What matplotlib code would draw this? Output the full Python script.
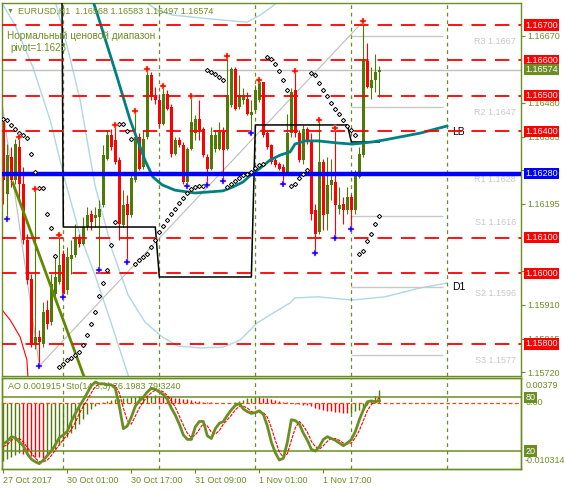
import numpy as np
import matplotlib
matplotlib.use('Agg')
import matplotlib.pyplot as plt

plt.rcParams['font.family'] = ['Liberation Sans', 'DejaVu Sans']
plt.rcParams['font.size'] = 6.5

OLIVE = '#6b8e23'
BULL = '#4e7a05'
LIGHTBLUE = '#add8e6'

# EURUSD H1, bars from 27 Oct 2017 09:00 to 2 Nov 2017 07:00
opens = [1.16427, 1.16224, 1.16328, 1.16262, 1.16356, 1.16252, 1.16092, 1.15984, 1.15796, 1.15820,
         1.15801, 1.15895, 1.15862, 1.15942, 1.15975, 1.16055, 1.15951, 1.16040, 1.16050, 1.16102,
         1.16083, 1.16130, 1.16166, 1.16156, 1.16158, 1.16191, 1.16323, 1.16389, 1.16375, 1.16318,
         1.16135, 1.16196, 1.16163, 1.16262, 1.16384, 1.16300, 1.16384, 1.16558, 1.16497, 1.16488,
         1.16422, 1.16506, 1.16469, 1.16337, 1.16375, 1.16361, 1.16257, 1.16351, 1.16394, 1.16436,
         1.16408, 1.16328, 1.16295, 1.16351, 1.16351, 1.16398, 1.16351, 1.16474, 1.16577, 1.16469,
         1.16488, 1.16492, 1.16445, 1.16459, 1.16488, 1.16539, 1.16394, 1.16361, 1.16318, 1.16309,
         1.16300, 1.16285, 1.16394, 1.16516, 1.16394, 1.16318, 1.16408, 1.16375, 1.16177, 1.16116,
         1.16314, 1.16168, 1.16248, 1.16257, 1.16182, 1.16196, 1.16177, 1.16215, 1.16177, 1.16271,
         1.16332, 1.16598, 1.16523, 1.16544, 1.16568]
highs = [1.16431, 1.16365, 1.16356, 1.16379, 1.16384, 1.16300, 1.16111, 1.15998, 1.16236, 1.15840,
         1.15918, 1.15923, 1.15998, 1.16045, 1.16108, 1.16064, 1.16074, 1.16092, 1.16139, 1.16111,
         1.16158, 1.16187, 1.16177, 1.16187, 1.16205, 1.16361, 1.16403, 1.16408, 1.16417, 1.16328,
         1.16234, 1.16220, 1.16281, 1.16457, 1.16394, 1.16403, 1.16575, 1.16568, 1.16525, 1.16506,
         1.16527, 1.16516, 1.16478, 1.16384, 1.16384, 1.16370, 1.16356, 1.16500, 1.16445, 1.16488,
         1.16412, 1.16337, 1.16412, 1.16403, 1.16427, 1.16412, 1.16612, 1.16582, 1.16582, 1.16558,
         1.16521, 1.16511, 1.16488, 1.16530, 1.16544, 1.16540, 1.16403, 1.16365, 1.16328, 1.16314,
         1.16309, 1.16450, 1.16521, 1.16570, 1.16403, 1.16417, 1.16412, 1.16394, 1.16196, 1.16431,
         1.16323, 1.16328, 1.16323, 1.16409, 1.16243, 1.16215, 1.16243, 1.16224, 1.16290, 1.16356,
         1.16711, 1.16648, 1.16582, 1.16619, 1.16583]
lows = [1.16196, 1.16154, 1.16243, 1.16252, 1.16205, 1.16083, 1.15970, 1.15791, 1.15787, 1.15738,
        1.15791, 1.15843, 1.15853, 1.15933, 1.15970, 1.15933, 1.15942, 1.15998, 1.16045, 1.16074,
        1.16078, 1.16121, 1.16121, 1.16130, 1.16010, 1.16187, 1.16318, 1.16347, 1.16309, 1.16092,
        1.16130, 1.16031, 1.16158, 1.16257, 1.16290, 1.16295, 1.16379, 1.16488, 1.16478, 1.16412,
        1.16417, 1.16459, 1.16328, 1.16332, 1.16356, 1.16252, 1.16245, 1.16347, 1.16375, 1.16375,
        1.16328, 1.16248, 1.16290, 1.16342, 1.16347, 1.16261, 1.16347, 1.16469, 1.16459, 1.16464,
        1.16478, 1.16445, 1.16394, 1.16455, 1.16483, 1.16384, 1.16351, 1.16309, 1.16300, 1.16290,
        1.16250, 1.16281, 1.16384, 1.16384, 1.16314, 1.16309, 1.16365, 1.16149, 1.16058, 1.16111,
        1.16121, 1.16121, 1.16205, 1.16100, 1.16168, 1.16139, 1.16168, 1.16125, 1.16168, 1.16267,
        1.16328, 1.16521, 1.16492, 1.16511, 1.16497]
closes = [1.16262, 1.16332, 1.16262, 1.16365, 1.16252, 1.16092, 1.15980, 1.15796, 1.15820, 1.15805,
          1.15890, 1.15857, 1.15970, 1.15989, 1.16022, 1.15942, 1.16045, 1.16050, 1.16102, 1.16083,
          1.16130, 1.16163, 1.16144, 1.16163, 1.16182, 1.16332, 1.16389, 1.16356, 1.16314, 1.16139,
          1.16191, 1.16163, 1.16267, 1.16384, 1.16295, 1.16379, 1.16558, 1.16497, 1.16488, 1.16422,
          1.16506, 1.16464, 1.16337, 1.16375, 1.16361, 1.16257, 1.16351, 1.16427, 1.16436, 1.16403,
          1.16332, 1.16295, 1.16389, 1.16389, 1.16398, 1.16347, 1.16502, 1.16577, 1.16464, 1.16502,
          1.16502, 1.16450, 1.16455, 1.16516, 1.16539, 1.16389, 1.16356, 1.16314, 1.16304, 1.16295,
          1.16285, 1.16394, 1.16511, 1.16394, 1.16318, 1.16408, 1.16375, 1.16168, 1.16111, 1.16314,
          1.16163, 1.16248, 1.16262, 1.16191, 1.16191, 1.16177, 1.16215, 1.16177, 1.16281, 1.16337,
          1.16598, 1.16525, 1.16546, 1.16568, 1.16574]

# parabolic SAR
psar = [1.16436, 1.16431, 1.16419, 1.16408, 1.16396, 1.16389, 1.16381, 1.16337, 1.16284, 1.16240,
        1.16240, 1.16168, 1.16127, 1.16047, 1.15735, 1.15744, 1.15754, 1.15761, 1.15768, 1.15777,
        1.15796, 1.15824, 1.15857, 1.15890, 1.15934, 1.15972, 1.16008, 1.16080, 1.16144, 1.16420,
        1.16420, 1.16400, 1.16379, 1.16027, 1.16038, 1.16045, 1.16053, 1.16074, 1.16092, 1.16116,
        1.16132, 1.16149, 1.16168, 1.16182, 1.16198, 1.16213, 1.16226, 1.16238, 1.16243, 1.16245,
        1.16247, 1.16572, 1.16568, 1.16561, 1.16552, 1.16544, 1.16243, 1.16252, 1.16260, 1.16268,
        1.16276, 1.16281, 1.16285, 1.16297, 1.16304, 1.16309, 1.16610, 1.16603, 1.16591, 1.16571,
        1.16546, 1.16518, 1.16245, 1.16252, 1.16268, 1.16281, 1.16290, 1.16566, 1.16558, 1.16537,
        1.16518, 1.16499, 1.16480, 1.16464, 1.16448, 1.16433, 1.16414, 1.16403, 1.16389, 1.16055,
        1.16062, 1.16090, 1.16111, 1.16138, 1.16161]

up_fractals = [4, 8, 14, 28, 33, 36, 40, 47, 56, 64, 73, 79, 83, 90]
down_fractals = [1, 9, 15, 24, 31, 46, 51, 55, 62, 70, 78, 83, 87]

level_lines = [1.16700, 1.16600, 1.16500, 1.16400, 1.16100, 1.16000, 1.15800]
pivot_line = 1.16280
bid = 1.16574
pivot_names = ['R3', 'R2', 'R1', 'S1', 'S2', 'S3']
pivot_values = [1.1667, 1.1647, 1.1628, 1.1616, 1.1596, 1.1577]
pivot_from, pivot_to = 87, 110

# daily step line (black)
day_starts = [0, 15, 39, 63, 87]
day_levels = [1.18100, 1.16130, 1.15989, 1.16418, 1.16370]
day_separators = [15, 39, 63, 87, 111]

# LB curve (teal)
lb_x = [22.2, 24.2, 27.9, 31.7, 32.9, 35.4, 37.4, 39.7, 42.9, 47.9, 54.9, 57.4, 59.9, 62.4,
        64.2, 66.7, 69.2, 71.7, 72.9, 75.4, 78.7, 83.7, 87.2, 92.2, 95.4, 104.2, 110.9]
lb_y = [1.16776, 1.16706, 1.16573, 1.16432, 1.16395, 1.16319, 1.16271, 1.16249, 1.16234, 1.16226,
        1.16232, 1.16243, 1.16257, 1.16282, 1.16296, 1.16319, 1.16333, 1.16342, 1.16364, 1.16373,
        1.16373, 1.16367, 1.16364, 1.16370, 1.16376, 1.16395, 1.16415]

# D1 band curves (light blue)
d1_low_x = [12.9, 16.2, 19.2, 22.9, 27.2, 31.2, 35.4, 39.7, 43.7, 49.2, 54.9, 59.2, 63.4, 67.4,
            71.7, 72.9, 78.7, 87.2, 95.4, 104.2, 110.9]
d1_low_y = [1.16771, 1.16629, 1.16488, 1.16249, 1.16065, 1.15938, 1.15862, 1.15820, 1.15794,
            1.15789, 1.15791, 1.15811, 1.15859, 1.15887, 1.15916, 1.15930, 1.15933, 1.15924,
            1.15933, 1.15958, 1.15972]
d1_up_x = [34.9, 38.4, 42.4, 49.2, 54.9, 60.9, 64.2, 66.7, 69.2]
d1_up_y = [1.16771, 1.16742, 1.16728, 1.16720, 1.16714, 1.16708, 1.16728, 1.16748, 1.16771]
band_left_x = [-0.8, 2.9, 7.4, 11.7, 15.4, 19.2, 22.9, 26.7, 31.2, 32.5]
band_left_y = [1.16771, 1.16700, 1.16581, 1.16432, 1.16263, 1.16107, 1.15995, 1.15868, 1.15712,
               1.15670]
red_curve_x = [-0.3, 1.7, 4.2, 5.9, 6.2]
red_curve_y = [1.15896, 1.15868, 1.15820, 1.15755, 1.15698]

# zigzag (grey) and olive trend line
zz_x = [-3, 9, 90]
zz_y = [1.16694, 1.15738, 1.16711]
trend_x = [2.4, 20.4]
trend_y = [1.16254, 1.15701]

# right scale labels (1.16100 and 1.16575 sit fully under the level boxes)
price_ticks = [1.15720, 1.15815, 1.15910, 1.16005, 1.16195, 1.16290, 1.16385,
               1.16480, 1.16670]
time_ticks = [0, 16, 32, 48, 64, 80]
time_labels = ['27 Oct 2017', '30 Oct 01:00', '30 Oct 17:00', '31 Oct 09:00',
               '1 Nov 01:00', '1 Nov 17:00']

# Awesome oscillator and stochastic (14,3,3)
ao = [-0.00910, -0.00879, -0.00849, -0.00819, -0.00788, -0.00803, -0.00819, -0.00834, -0.00841,
      -0.00849, -0.00857, -0.00819, -0.00773, -0.00713, -0.00652, -0.00591, -0.00531, -0.00470,
      -0.00409, -0.00334, -0.00258, -0.00182, -0.00106, -0.00045, -0.00015, 0.00008, 0.00023,
      0.00038, 0.00053, 0.00061, 0.00068, 0.00076, 0.00083, 0.00091, 0.00096, 0.00100, 0.00106,
      0.00111, 0.00114, 0.00109, 0.00103, 0.00096, 0.00088, 0.00079, 0.00070, 0.00061, 0.00052,
      0.00042, 0.00033, 0.00024, 0.00015, 0.00009, 0.00005, 0.00000, -0.00005, -0.00008, -0.00011,
      -0.00005, 0.00012, 0.00030, 0.00049, 0.00065, 0.00079, 0.00088, 0.00083, 0.00076, 0.00065,
      0.00055, 0.00042, 0.00030, 0.00015, 0.00003, -0.00008, -0.00015, -0.00023, -0.00030, -0.00038,
      -0.00053, -0.00076, -0.00099, -0.00114, -0.00126, -0.00136, -0.00144, -0.00152, -0.00156,
      -0.00159, -0.00155, -0.00136, -0.00114, -0.00076, -0.00030, 0.00030, 0.00106, 0.001915]
sto_main = [28, 31, 36, 35, 30, 26, 17, 11, 8, 6, 10, 15, 20, 27, 35, 38, 42, 53, 62, 70,
            77, 85, 93, 97, 95, 95, 94, 94, 90, 70, 45, 48, 58, 70, 76, 80, 86, 90, 89, 86,
            83, 78, 68, 60, 50, 38, 33, 33, 47, 53, 53, 37, 34, 45, 51, 53, 60, 66, 71, 73,
            67, 64, 62, 63, 65, 61, 48, 30, 18, 10, 12, 30, 55, 54, 50, 40, 32, 22, 20, 25,
            33, 36, 34, 32, 29, 26, 29, 33, 42, 55, 66, 75, 76, 75, 76.1983]
sto_signal = [25, 27, 32, 34, 34, 30, 24, 18, 12, 8, 8, 10, 15, 21, 27, 33, 38, 44, 52, 62,
              70, 77, 85, 92, 95, 96, 95, 94, 93, 85, 68, 54, 50, 59, 68, 75, 81, 85, 88, 88,
              86, 82, 76, 69, 59, 49, 40, 35, 38, 44, 51, 48, 41, 39, 43, 50, 55, 60, 66, 70,
              70, 68, 64, 63, 63, 63, 58, 46, 32, 19, 13, 17, 32, 46, 53, 48, 41, 31, 25, 22,
              26, 31, 34, 34, 32, 29, 28, 29, 35, 43, 54, 65, 72, 76, 79.3240]

# ------------------------------------------------------------------
W, H = 564.0, 490.0
fig = plt.figure(figsize=(W / 100, H / 100), dpi=100)
ax = fig.add_axes([2 / W, 1 - 375.5 / H, 519 / W, (375.5 - 2.7) / H])
axi = fig.add_axes([2 / W, 1 - 469 / H, 519 / W, (469 - 378.3) / H])
axs = axi.twinx()

o, h, l, c = (np.array(v) for v in (opens, highs, lows, closes))
x = np.arange(len(o))
colors = np.where(c >= o, BULL, 'red')

ax.set_xlim(-0.325, 129.4)
ax.set_ylim(1.15711, 1.16763)

# background lines
ax.plot(band_left_x, band_left_y, color=LIGHTBLUE, lw=1, zorder=1)
ax.plot(d1_low_x, d1_low_y, color=LIGHTBLUE, lw=1, zorder=1)
ax.plot(d1_up_x, d1_up_y, color=LIGHTBLUE, lw=1, zorder=1)
ax.plot(red_curve_x, red_curve_y, color='red', lw=0.8, zorder=1)
ax.plot(zz_x, zz_y, color='#bdbdbd', lw=0.8, zorder=1)
ax.axhline(bid, color='#c0c0c0', lw=1, zorder=1)
ax.hlines(pivot_values, pivot_from, pivot_to, color='#c8c8c8', lw=1, zorder=1)
for xs in day_separators:
    ax.axvline(xs, color=OLIVE, lw=0.9, dashes=(3, 3), zorder=1)
    axi.axvline(xs, color=OLIVE, lw=0.9, dashes=(3, 3), zorder=1)

# candles
ax.vlines(x, l, h, colors=colors, lw=0.8, zorder=2)
ax.bar(x, np.maximum(np.abs(c - o), 0.00002), bottom=np.minimum(o, c), width=0.72,
       color=colors, lw=0, zorder=2)

# indicators
ax.plot(trend_x, trend_y, color='#5f8a00', lw=2, zorder=3)
black = np.repeat(day_levels, np.diff(day_starts + [len(o)]))
ax.plot(x, black, color='black', lw=1.1, zorder=3)
ax.plot(lb_x, lb_y, color='#008080', lw=2, zorder=3)
ax.plot(x, psar, ls='none', marker='D', ms=2.2, mfc='white', mec='black', mew=0.7, zorder=6)

# horizontal levels
for lvl in level_lines:
    ax.axhline(lvl, color='red', lw=1.3, dashes=(8, 5), zorder=4)
ax.axhline(pivot_line, color='blue', lw=3.2, zorder=4)

# fractals
ax.plot(up_fractals, h[up_fractals], ls='none', marker='P', ms=4.5, mfc='red', mec='#ffb080',
        mew=0.35, zorder=7)
ax.plot(down_fractals, l[down_fractals], ls='none', marker='P', ms=4.5, mfc='blue', mec='#f0a0f0',
        mew=0.35, zorder=7)

# axes styling
for a in (ax, axi, axs):
    for s in a.spines.values():
        s.set_color(OLIVE)
        s.set_linewidth(1)
ax.set_xticks([])
ax.yaxis.tick_right()
ax.set_yticks(price_ticks)
ax.set_yticklabels([f'{p:.5f}' for p in price_ticks])
ax.tick_params(axis='y', colors=OLIVE, length=3, pad=1.5, labelsize=6.5)

# right side price boxes
def price_box(val, fc, tc='white'):
    ax.annotate(f'{val:.5f}', xy=(1, val), xycoords=('axes fraction', 'data'),
                xytext=(3.2, 0), textcoords='offset points', ha='left', va='center',
                color=tc, fontsize=6.5, annotation_clip=False, zorder=10,
                bbox=dict(boxstyle='square,pad=0.12', fc=fc, ec='none'))

for lvl in level_lines:
    price_box(lvl, 'red')
price_box(pivot_line, 'blue')
price_box(bid, OLIVE)

for name, val in zip(pivot_names, pivot_values):
    ax.annotate(f'{name} {val:.4f}', xy=(1, val), xycoords=('axes fraction', 'data'),
                xytext=(-3.6, -4.3), textcoords='offset points', ha='right', va='center',
                color='#c8c8c8', fontsize=6.5, zorder=3)

ax.annotate('LB', xy=(lb_x[-1], lb_y[-1]), xytext=(3.6, -4), textcoords='offset points',
            ha='left', va='center', fontsize=7.5, color='black')
ax.annotate('D1', xy=(d1_low_x[-1], d1_low_y[-1]), xytext=(3.6, -3), textcoords='offset points',
            ha='left', va='center', fontsize=7.5, color='black')

ax.annotate('\u25bc', xy=(0, 1), xycoords='axes fraction', xytext=(3.6, -6),
            textcoords='offset points', ha='left', va='center', fontsize=5, color=OLIVE)
ax.annotate('EURUSD,H1  1.16568 1.16583 1.16497 1.16574', xy=(0, 1), xycoords='axes fraction',
            xytext=(11.5, -6), textcoords='offset points', ha='left', va='center', color=OLIVE)
ax.annotate('Нормальный ценовой диапазон', xy=(0, 1), xycoords='axes fraction',
            xytext=(3.8, -24), textcoords='offset points', ha='left', va='center', color=OLIVE,
            fontsize=7.2)
ax.annotate('pivot=1.1628', xy=(0, 1), xycoords='axes fraction',
            xytext=(5.8, -32.6), textcoords='offset points', ha='left', va='center', color=OLIVE,
            fontsize=7)

# ------------------------------------------------------------------
# indicator window
axi.set_xlim(-0.325, 129.4)
axs.set_xlim(-0.325, 129.4)
axi.set_ylim(-0.010314, 0.00379)
axs.set_ylim(0, 101.2)

ao_arr = np.array(ao)
ao_col = [BULL] + [BULL if ao_arr[i] > ao_arr[i - 1] else 'red' for i in range(1, len(ao_arr))]
axi.vlines(x, 0, ao_arr, colors=ao_col, lw=1, zorder=2)
axi.axhline(0, color='#ff4500', lw=0.9, dashes=(3, 2), zorder=2)

axs.axhline(80, color=OLIVE, lw=1.1, zorder=2)
axs.axhline(20, color=OLIVE, lw=1.1, zorder=2)
axs.plot(x, sto_signal, color='red', lw=0.8, dashes=(3, 1), zorder=3)
axs.plot(x, sto_main, color=OLIVE, lw=2, zorder=4)

axi.set_yticks([])
axs.set_yticks([])
axi.set_xticks(time_ticks)
axi.set_xticklabels(time_labels, ha='left')
axi.tick_params(axis='x', colors=OLIVE, length=3, pad=2, labelsize=6.5)

axi.annotate('AO 0.001915  Sto(14,3,3) 76.1983 79.3240', xy=(0, 1), xycoords='axes fraction',
             xytext=(4.3, -6), textcoords='offset points', ha='left', va='center', color=OLIVE)
axi.annotate('0.00379', xy=(1, 1), xycoords='axes fraction', xytext=(3.4, -5.3),
             textcoords='offset points', ha='left', va='center', color=OLIVE,
             annotation_clip=False)
axi.annotate('-0.010314', xy=(1, 0), xycoords='axes fraction', xytext=(2.9, 6),
             textcoords='offset points', ha='left', va='center', color=OLIVE,
             annotation_clip=False)
axi.annotate('0.00', xy=(1, 0), xycoords=('axes fraction', 'data'), xytext=(3.4, 0),
             textcoords='offset points', ha='left', va='center', color=OLIVE,
             annotation_clip=False)
for lv in (80, 20):
    axs.annotate(str(lv), xy=(1, lv), xycoords=('axes fraction', 'data'), xytext=(3.2, 0),
                 textcoords='offset points', ha='left', va='center', color='white',
                 annotation_clip=False, zorder=10,
                 bbox=dict(boxstyle='square,pad=0.12', fc=OLIVE, ec='none'))

fig.savefig('out.png', dpi=100)
